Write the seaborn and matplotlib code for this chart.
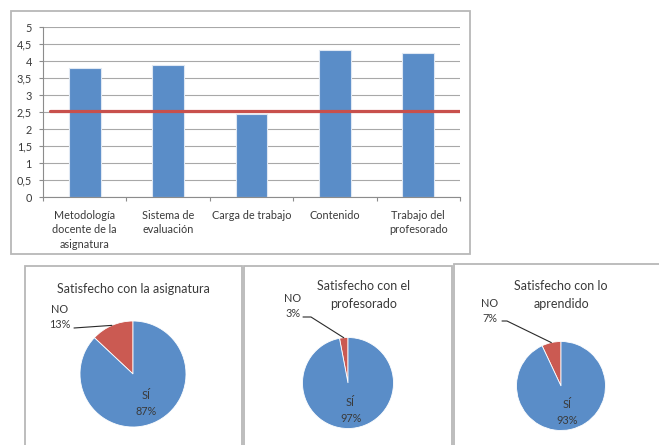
import matplotlib
matplotlib.use("Agg")
import matplotlib.pyplot as plt
import seaborn as sns
import numpy as np
import pandas as pd
from matplotlib.patches import Rectangle

# ---------------- data ----------------
categories = ["Metodología\ndocente de la\nasignatura", "Sistema de\nevaluación",
              "Carga de trabajo", "Contenido", "Trabajo del\nprofesorado"]
scores = [3.8, 3.9, 2.43, 4.32, 4.25]
reference_value = 2.52
y_ticks = [0, 0.5, 1, 1.5, 2, 2.5, 3, 3.5, 4, 4.5, 5]
y_tick_labels = ["0", "0,5", "1", "1,5", "2", "2,5", "3", "3,5", "4", "4,5", "5"]

pie_titles = ["Satisfecho con la asignatura", "Satisfecho con el\nprofesorado",
              "Satisfecho con lo\naprendido"]
pie_labels = ["NO", "SÍ"]
pie_no = [13, 3, 7]
pie_si = [87, 97, 93]

# ---------------- style ----------------
sns.set_theme(style="white")
plt.rcParams["font.family"] = ["Lato", "DejaVu Sans"]
BLUE = "#5A8DC8"
RED = "#CB5A52"
TXT = "#3a3a3a"
FRAME = "#b8b8b8"

W, H = 659, 445
fig = plt.figure(figsize=(W / 100, H / 100), dpi=100)
fig.patch.set_facecolor("white")

def Y(py):
    return H - py

# overlay axes in pixel coordinates
ov = fig.add_axes([0, 0, 1, 1], zorder=0)
ov.set_xlim(0, W)
ov.set_ylim(0, H)
ov.axis("off")

# frames
ov.add_patch(Rectangle((11, Y(254)), 459, 243, fill=False, ec=FRAME, lw=1.3))
ov.add_patch(Rectangle((25, -5), 217, Y(266) + 5, fill=False, ec=FRAME, lw=1.3))
ov.add_patch(Rectangle((244, -5), 208, Y(266) + 5, fill=False, ec=FRAME, lw=1.3))
ov.add_patch(Rectangle((454, -5), 215, Y(264) + 5, fill=False, ec=FRAME, lw=1.3))

# ---------------- bar chart ----------------
bx = fig.add_axes([43 / W, (H - 197) / H, 417 / W, 170 / H], zorder=2)
df = pd.DataFrame({"cat": categories, "val": scores})
sns.barplot(data=df, x="cat", y="val", ax=bx, color=BLUE, saturation=1,
            width=0.38, edgecolor="#dfe8f3", linewidth=0.8)
bx.set_xlim(-0.5, 4.5)
bx.set_ylim(0, 5.005)
bx.set_yticks(y_ticks)
bx.set_yticklabels(y_tick_labels)
bx.yaxis.grid(True, color="#a8a8a8", lw=0.8)
bx.set_axisbelow(True)
bx.set_xlabel("")
bx.set_ylabel("")
for s in ["top", "right"]:
    bx.spines[s].set_visible(False)
for s in ["left", "bottom"]:
    bx.spines[s].set_color("#8c8c8c")
    bx.spines[s].set_linewidth(0.8)
bx.tick_params(axis="y", which="major", left=True, length=3, width=0.8,
               color="#8c8c8c", labelsize=7.8, labelcolor=TXT, pad=5)
bx.tick_params(axis="x", which="major", bottom=False, length=0,
               labelsize=7.8, labelcolor=TXT, pad=9)
bx.set_xticks(np.arange(-0.5, 5, 1), minor=True)
bx.tick_params(axis="x", which="minor", bottom=True, length=3, width=0.8,
               color="#8c8c8c")
for lab in bx.get_xticklabels():
    lab.set_linespacing(1.42)
bx.axhline(reference_value, xmin=0.017, xmax=1, color="#C8504C", lw=2.3, zorder=5)

# ---------------- pies ----------------
centers = [(133, 374), (348, 383), (561, 386)]
radii = [53, 45.5, 44.5]
title_pos = [(133, 289), (364, 295), (561, 295)]
no_label_pos = [(60, 317), (293, 306), (490, 311)]
leader_start = [[(74, 328)], [(303, 317), (311, 317)], [(502, 321), (507, 321)]]

for i in range(3):
    cx, cy = centers[i]
    r = radii[i]
    vals = [pie_no[i], pie_si[i]]
    texts_in = iter(["", f"{pie_labels[1]}\n{pie_si[i]}%"])
    ov.pie(vals, colors=[RED, BLUE], startangle=90, counterclock=True,
           center=(cx, Y(cy)), radius=r, frame=True,
           autopct=lambda p, it=texts_in: next(it), pctdistance=0.6,
           textprops=dict(fontsize=7.8, color=TXT, linespacing=1.55),
           wedgeprops=dict(edgecolor="white", linewidth=0.6))
    ov.text(title_pos[i][0], Y(title_pos[i][1]), pie_titles[i], ha="center",
            va="center", fontsize=9, color=TXT, linespacing=1.5)
    ov.text(no_label_pos[i][0], Y(no_label_pos[i][1]),
            f"{pie_labels[0]}\n{pie_no[i]}%", ha="center", va="center",
            fontsize=7.8, color=TXT, linespacing=1.55)
    mid = np.deg2rad(90 + pie_no[i] / (pie_no[i] + pie_si[i]) * 360 / 2)
    ex, ey = cx + r * np.cos(mid), Y(cy) + r * np.sin(mid)
    pts = [(x, Y(y)) for x, y in leader_start[i]] + [(ex, ey)]
    ov.plot([p[0] for p in pts], [p[1] for p in pts], color="#2a2a2a", lw=0.8)

ov.set_xlim(0, W)
ov.set_ylim(0, H)
ov.set_autoscale_on(False)
ov.axis("off")

fig.savefig("out.png", dpi=100, facecolor="white")
